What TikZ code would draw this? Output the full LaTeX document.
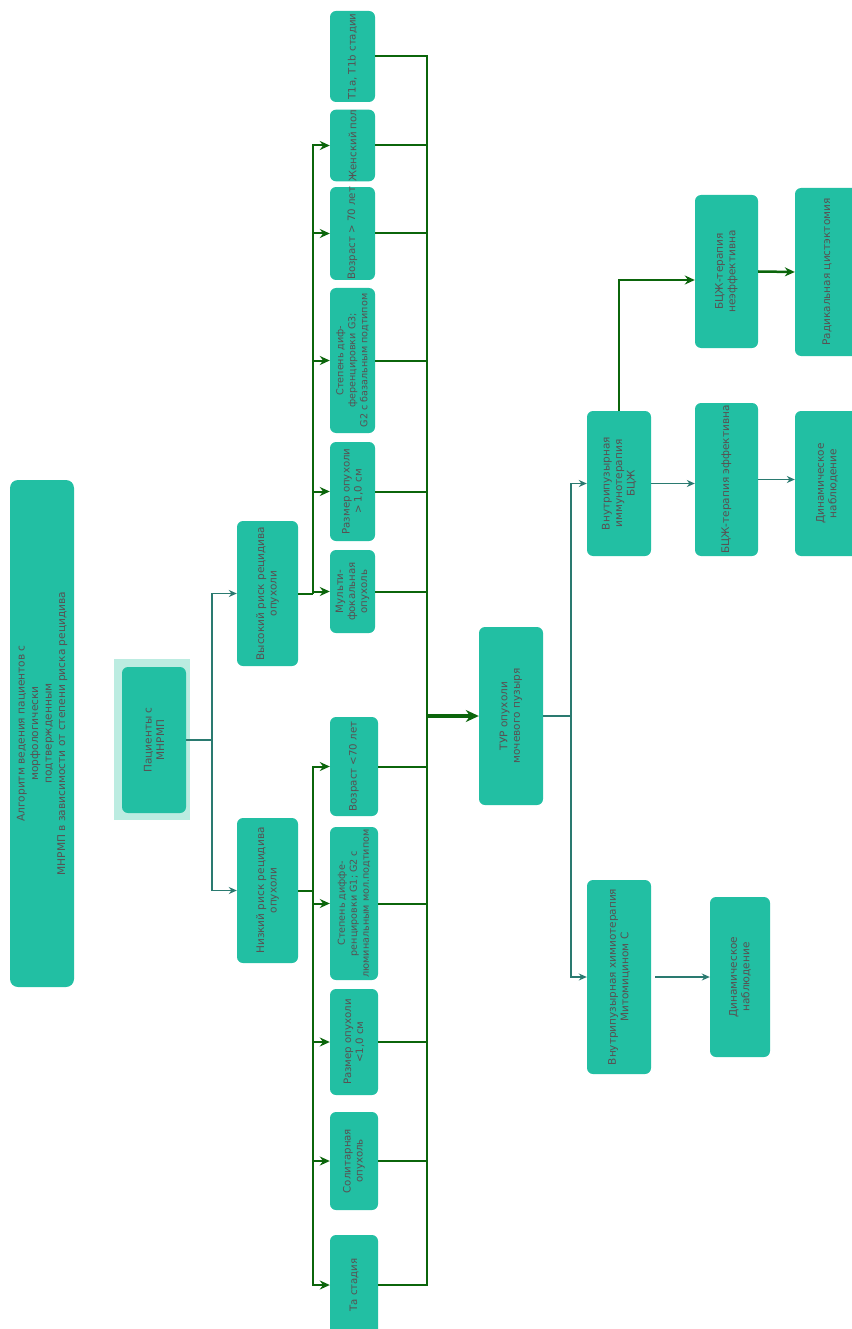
\documentclass[tikz,border=0pt]{standalone}
\usepackage{fontspec}
\setmainfont{DejaVu Sans}
\usetikzlibrary{arrows.meta}

\definecolor{boxteal}{HTML}{22BFA3}
\definecolor{paleteal}{HTML}{BCECE1}
\definecolor{txtgrey}{HTML}{585052}
\definecolor{darkgreen}{HTML}{0B650B}
\definecolor{lineteal}{HTML}{2A7A70}

\begin{document}
\begin{tikzpicture}[x=1pt,y=-1pt,
    box/.style={rotate=90, fill=boxteal, text=txtgrey, rounded corners=6pt,
        align=center, inner sep=0pt, font=\fontsize{10.5}{12.5}\selectfont},
    crit/.style={box, font=\fontsize{10.2}{12}\selectfont},
    gline/.style={draw=darkgreen, line width=2pt},
    garr/.style={gline, -{Stealth[length=10pt,width=9pt]}},
    tline/.style={draw=lineteal, line width=1.4pt},
    tarr/.style={tline, -{Stealth[length=8pt,width=7pt]}}]
    \useasboundingbox (0,0) rectangle (851,1329);

    % rotated boxes: north = left, south = right, east = top of the page
    \node[box, minimum width=507, minimum height=64, rounded corners=8pt,
        font=\fontsize{10.6}{13.5}\selectfont] (title) at (42,733.5)
        {Алгоритм ведения пациентов с\\морфологически\\подтвержденным\\МНРМП в зависимости от степени риска рецидива};

    \fill[paleteal] (114,659) rectangle (190,820);
    \node[box, minimum width=146, minimum height=64] (pat) at (154,740) {Пациенты с\\МНРМП};

    \node[box, minimum width=145, minimum height=61] (high) at (267.5,593.5) {Высокий риск рецидива\\опухоли};
    \node[box, minimum width=145, minimum height=61] (low) at (267.5,890.5) {Низкий риск рецидива\\опухоли};

    % high risk criteria
    \node[crit, minimum width=91, minimum height=45] (t1) at (352.5,56.5) {Т1а, Т1b стадии};
    \node[crit, minimum width=69, minimum height=45] (fem) at (352.5,145.5) {Женский пол};
    \node[crit, minimum width=91, minimum height=45] (age) at (352.5,233.5) {Возраст > 70 лет};
    \node[crit, minimum width=145, minimum height=45, font=\fontsize{9.6}{12}\selectfont] (grade) at (352.5,360.5)
        {Степень диф-\\ференцировки G3;\\G2 с базальным подтипом};
    \node[crit, minimum width=99, minimum height=45] (size) at (352.5,491.5) {Размер опухоли\\> 1,0 см};
    \node[crit, minimum width=83, minimum height=45] (mult) at (352.5,591.5) {Мульти-\\фокальная\\опухоль};

    % low risk criteria
    \node[crit, minimum width=99, minimum height=48] (agel) at (354,766.5) {Возраст <70 лет};
    \node[crit, minimum width=153, minimum height=48, font=\fontsize{9.6}{12}\selectfont] (gradel) at (354,903.5)
        {Степень диффе-\\ренцировки G1; G2 с\\люминальным мол.подтипом};
    \node[crit, minimum width=106, minimum height=48] (sizel) at (354,1042) {Размер опухоли\\<1,0 см};
    \node[crit, minimum width=98, minimum height=48] (sol) at (354,1161) {Солитарная\\опухоль};
    \node[crit, minimum width=100, minimum height=48] (ta) at (354,1285) {Та стадия};

    \node[box, minimum width=178, minimum height=64] (tur) at (511,716) {ТУР опухоли\\мочевого пузыря};

    \node[box, minimum width=145, minimum height=64] (imm) at (619,483.5) {Внутрипузырная\\иммунотерапия\\БЦЖ};
    \node[box, minimum width=194, minimum height=64] (chem) at (619,977) {Внутрипузырная химиотерапия\\Митомицином С};

    \node[box, minimum width=153, minimum height=63] (noeff) at (726.5,271.5) {БЦЖ-терапия\\неэффективна};
    \node[box, minimum width=153, minimum height=63] (eff) at (726.5,479.5) {БЦЖ-терапия эффективна};

    \node[box, minimum width=168, minimum height=64] (rad) at (827,272) {Радикальная цистэктомия};
    \node[box, minimum width=145, minimum height=64] (dyn1) at (827,483.5) {Динамическое\\наблюдение};
    \node[box, minimum width=160, minimum height=60] (dyn2) at (740,977) {Динамическое\\наблюдение};

    % connectors
    \coordinate (psplit) at (212,740);
    \draw[tline] (pat.south) -- (psplit);
    \draw[tarr] (psplit) |- (high.north);
    \draw[tarr] (psplit) |- (low.north);

    \coordinate (hsplit) at (313,593.5);
    \draw[gline] (high.south) -- (hsplit);
    \foreach \n in {fem,age,grade,size,mult}
        \draw[garr] (hsplit) |- (\n.north);

    \coordinate (lsplit) at (313,890.5);
    \draw[gline] (low.south) -- (lsplit);
    \foreach \n in {agel,gradel,sizel,sol,ta}
        \draw[garr] (lsplit) |- (\n.north);

    \coordinate (bus) at (427,716);
    \foreach \n in {t1,fem,age,grade,size,mult,agel,gradel,sizel,sol,ta}
        \draw[gline] (\n.south) -| (bus);
    \draw[garr, line width=4pt, -{Stealth[length=13pt,width=12pt]}] (bus) -- (tur.north);

    \coordinate (tsplit) at (571,716);
    \draw[tline] (tur.south) -- (tsplit);
    \draw[tarr] (tsplit) |- (imm.north);
    \draw[tarr] (tsplit) |- (chem.north);

    \draw[tarr] (imm.south) -- (imm.south -| eff.north);
    \draw[garr] (imm.east) |- ([yshift=-8.5pt]noeff.north);
    \draw[tarr] (eff.south) -- (eff.south -| dyn1.north);
    \draw[garr, line width=2.5pt] (noeff.south) -- (rad.north);
    \draw[tarr] ([xshift=4pt]chem.south) -- (dyn2.north);
\end{tikzpicture}
\end{document}
